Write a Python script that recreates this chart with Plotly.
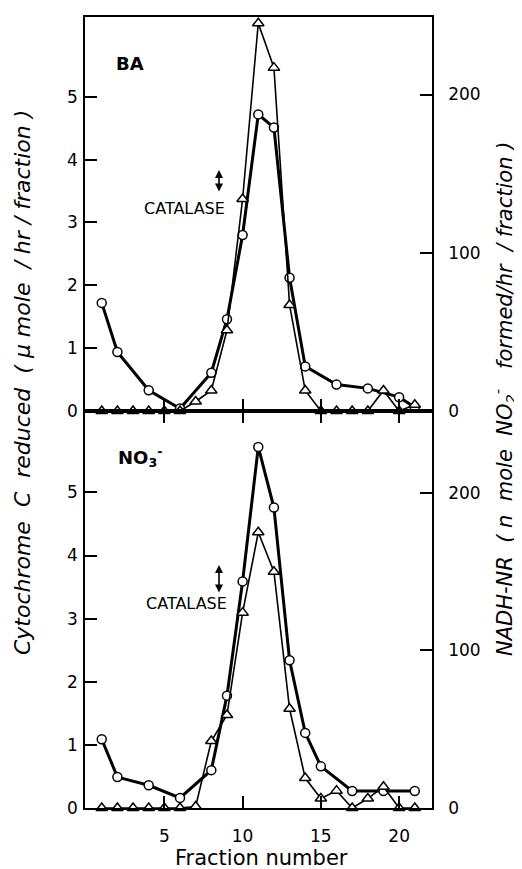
import plotly.graph_objects as go

# ---------------- data ----------------
# BA panel (top)
ba_circ_fraction = [1, 2, 4, 6, 8, 9, 10, 11, 12, 13, 14, 16, 18, 20, 21]
ba_cytc = [1.72, 0.94, 0.33, 0.04, 0.61, 1.46, 2.80, 4.72, 4.51, 2.12, 0.71, 0.42, 0.36, 0.22, 0.06]
ba_tri_fraction = list(range(1, 22))
ba_nr = [0, 0, 0, 0, 0, 0, 6, 13, 51, 134, 245, 217, 67, 13, 0, 0, 0, 0, 13, 0, 4]

# NO3- panel (bottom)
no3_circ_fraction = [1, 2, 4, 6, 8, 9, 10, 11, 12, 13, 14, 15, 17, 19, 21]
no3_cytc = [1.09, 0.49, 0.36, 0.16, 0.60, 1.78, 3.59, 5.72, 4.76, 2.34, 1.19, 0.66, 0.27, 0.27, 0.27]
no3_tri_fraction = list(range(1, 22))
no3_nr = [0, 0, 0, 0, 0, 0, 1, 42.5, 59, 124, 175, 150, 63, 19, 6, 11, 0, 6, 13.5, 0, 0]

left_ticks = [0, 1, 2, 3, 4, 5]
right_ticks = [0, 100, 200]
x_ticks = [5, 10, 15, 20]

FONT = "DejaVu Sans"
BLACK = "black"
NB = "\u00a0"

fig = go.Figure()

circ_style = dict(mode="lines+markers", line=dict(color=BLACK, width=3),
                  marker=dict(symbol="circle", size=9, color="white",
                              line=dict(color=BLACK, width=1.5)),
                  cliponaxis=False, showlegend=False)
tri_style = dict(mode="lines+markers", line=dict(color=BLACK, width=1.6),
                 marker=dict(symbol="triangle-up", size=10, color="white",
                             line=dict(color=BLACK, width=1.5)),
                 cliponaxis=False, showlegend=False)

fig.add_trace(go.Scatter(x=ba_circ_fraction, y=ba_cytc, xaxis="x", yaxis="y", **circ_style))
fig.add_trace(go.Scatter(x=ba_tri_fraction, y=ba_nr, xaxis="x", yaxis="y2", **tri_style))
fig.add_trace(go.Scatter(x=no3_circ_fraction, y=no3_cytc, xaxis="x2", yaxis="y3", **circ_style))
fig.add_trace(go.Scatter(x=no3_tri_fraction, y=no3_nr, xaxis="x2", yaxis="y4", **tri_style))

split = 0.5019
xrange_ = [-0.07, 22.1]
tickfont = dict(family=FONT, size=17, color=BLACK)

common_x = dict(range=xrange_, tickvals=x_ticks, ticks="inside", ticklen=12, tickwidth=1.5,
                tickcolor=BLACK, showline=True, linecolor=BLACK, linewidth=1.5,
                showgrid=False, zeroline=False, tickfont=tickfont)
common_y = dict(ticks="inside", ticklen=12, tickwidth=1.5, tickcolor=BLACK,
                showline=True, linecolor=BLACK, linewidth=1.5,
                showgrid=False, zeroline=False, tickfont=tickfont)

# page body has an 8px margin: offset the figure so the plot area lands where the reference has it
fig.update_layout(
    width=514, height=869,
    margin=dict(l=77, r=90, t=7, b=69),
    paper_bgcolor="white", plot_bgcolor="white",
    font=dict(family=FONT, color=BLACK),
    xaxis=dict(domain=[0, 1], anchor="y", mirror=True, showticklabels=False, **common_x),
    xaxis2=dict(domain=[0, 1], anchor="y3", mirror="ticks", showticklabels=True,
                ticklabelstandoff=12, **common_x),
    yaxis=dict(domain=[split, 1], anchor="x", range=[0, 6.27], tickvals=left_ticks,
               ticklabelstandoff=2, **common_y),
    yaxis2=dict(overlaying="y", side="right", anchor="x", range=[0, 249], tickvals=right_ticks,
                ticklabelstandoff=11, **common_y),
    yaxis3=dict(domain=[0, split], anchor="x2", range=[0, 6.29], tickvals=left_ticks,
                ticklabelstandoff=2, **common_y),
    yaxis4=dict(overlaying="y3", side="right", anchor="x2", range=[0, 252], tickvals=right_ticks,
                ticklabelstandoff=11, **common_y),
)

def px_x(px):
    return (px - 85) / 347

def px_y(py):
    return (808 - py) / 793

def note(text, cx, cy, size, **kw):
    d = dict(text=text, x=px_x(cx), y=px_y(cy), xref="paper", yref="paper",
             xanchor="center", yanchor="middle", showarrow=False,
             font=dict(size=size, family=FONT, color=BLACK))
    d.update(kw)
    return d

ann = []
ann.append(note("<b>BA</b>", 130, 62, 18))
ann.append(note("<b>NO<sub>3</sub><sup>-</sup></b>", 116, 456, 18, xanchor="left"))
for (cx, cy, ay0, ay1) in [(184, 207, 190, 167), (186.5, 603, 592, 563)]:
    ann.append(note("CATALASE", cx, cy, 16))
    ann.append(dict(text="", x=px_x(219), y=px_y(ay0), xref="paper", yref="paper",
                    ax=0, ay=-(ay0 - ay1), showarrow=True, arrowside="end+start",
                    arrowhead=2, startarrowhead=2, arrowsize=1, startarrowsize=1,
                    arrowwidth=1.6, arrowcolor=BLACK))
left_title = ("<i>Cytochrome" + NB * 2 + "C" + NB * 2 + "reduced" + NB * 2 + "(" + NB + "\u03bc" + NB +
              "mole" + NB * 2 + "/" + NB + "hr" + NB + "/" + NB + "fraction" + NB + ")</i>")
right_title = ("<i>NADH-NR" + NB * 2 + "(" + NB + "n" + NB * 2 + "mole" + NB * 2 + "NO<sub>2</sub><sup>-</sup>" +
               NB * 3 + "formed/hr" + NB * 2 + "/" + NB + "fraction" + NB + ")</i>")
ann.append(note(left_title, 22, 382, 22, textangle=-90))
ann.append(note(right_title, 504, 398, 21, textangle=-90))
ann.append(note("Fraction number", 262, 858, 21))
fig.update_layout(annotations=ann)

fig.write_html("out.html")
